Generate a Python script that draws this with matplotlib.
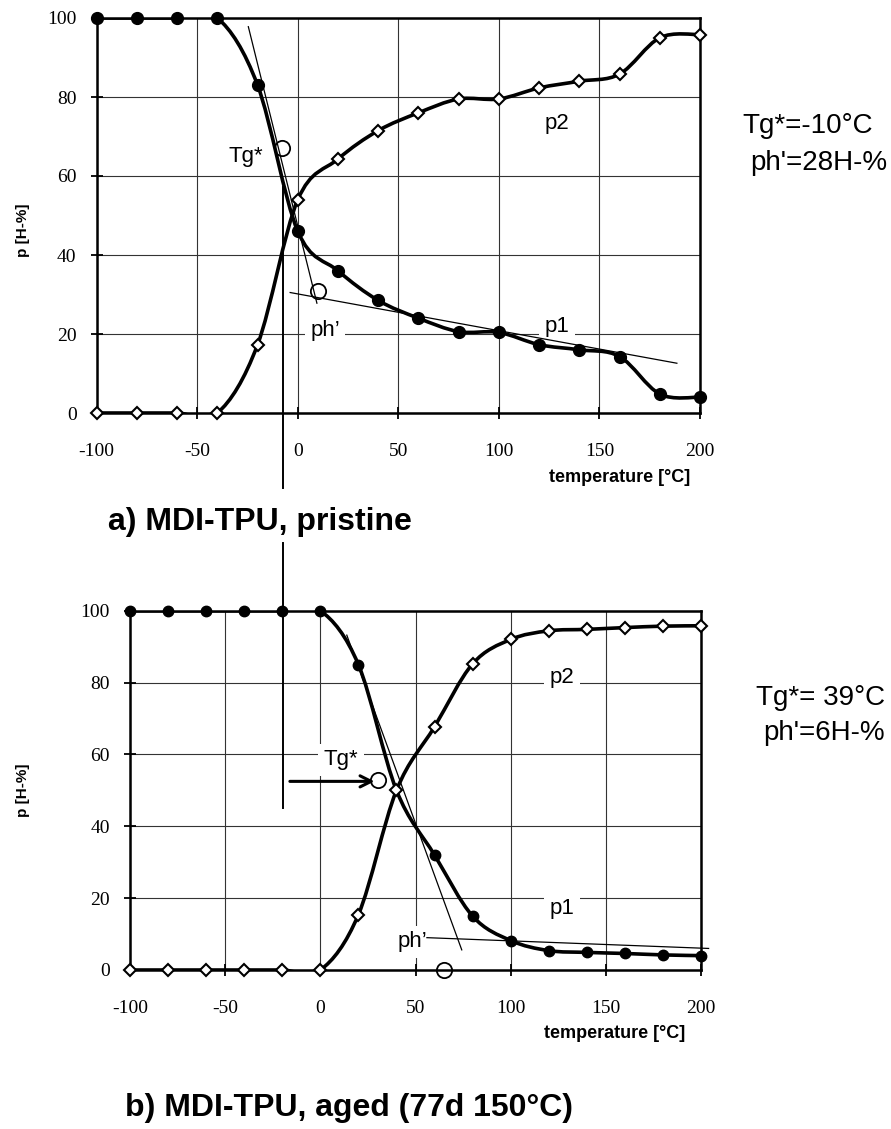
import numpy as np
import matplotlib
matplotlib.use("Agg")
import matplotlib.pyplot as plt
from matplotlib.path import Path
from matplotlib.patches import PathPatch
from matplotlib.lines import Line2D

# temperature grid of the measured points [°C]
temp = [-100, -80, -60, -40, -20, 0, 20, 40, 60, 80, 100, 120, 140, 160, 180, 200]

# a) pristine
pristine_p1 = [100, 100, 100, 100, 83, 46, 36, 28.5, 24, 20.6, 20.4, 17.3, 16, 14.3, 4.8, 4]
pristine_p2 = [0, 0, 0, 0, 17.3, 54, 64.3, 71.5, 76, 79.5, 79.5, 82.3, 84, 85.8, 95, 95.8]
pristine_marks = [(-8, 67), (10, 31)]                      # Tg*, ph'
pristine_tangents = [((-24.6, 9.5), (97.8, 27.8)), ((-3.8, 188.5), (30.5, 12.6))]
pristine_labels = [("Tg*", -26, 65), ("ph\u2019", 13.5, 21), ("p1", 129, 21.8), ("p2", 129, 73.3)]
pristine_note = ["Tg*=-10°C", "ph'=28H-%"]

# b) aged (77d 150°C)
aged_p1 = [100, 100, 100, 100, 100, 100, 85, 50, 32, 15, 8.2, 5.4, 4.9, 4.6, 4.2, 4]
aged_p2 = [0, 0, 0, 0, 0, 0, 15.4, 50, 67.7, 85.2, 92, 94.4, 94.8, 95.3, 95.7, 95.8]
aged_marks = [(30.5, 53), (65, 0)]                          # Tg*, ph'
aged_tangents = [((13.9, 74.3), (93.2, 5.6)), ((56, 204), (9.0, 6.0))]
aged_labels = [("Tg*", 11, 58.5), ("ph\u2019", 48.5, 7.8), ("p1", 127, 17.2), ("p2", 127, 81.3)]
aged_note = ["Tg*= 39°C", "ph'=6H-%"]
aged_arrow = ((-16, 52.5), (28.5, 52.5))

W, H = 891, 1129
plt.rcParams["font.family"] = ["Liberation Serif", "DejaVu Serif"]
plt.rcParams["axes.unicode_minus"] = False
SANS = ["Liberation Sans", "DejaVu Sans"]


def fx(px):
    return px / W


def fy(py):
    return 1 - py / H


def smooth_path(xs, ys):
    pts = np.column_stack([xs, ys]).astype(float)
    ext = np.vstack([pts[0], pts, pts[-1]])
    verts = [pts[0]]
    codes = [Path.MOVETO]
    for i in range(len(pts) - 1):
        p0, p1, p2, p3 = ext[i], ext[i + 1], ext[i + 2], ext[i + 3]
        verts += [p1 + (p2 - p0) / 6, p2 - (p3 - p1) / 6, p2]
        codes += [Path.CURVE4] * 3
    return Path(verts, codes)


def draw_panel(ax, p1, p2, marks, tangents, labels, ms_dot, ms_dia, hide_p1=None):
    ax.set_xlim(-100, 200)
    ax.set_ylim(0, 100)
    ax.set_xticks(range(-100, 201, 50))
    ax.set_yticks(range(0, 101, 20))
    ax.grid(True, color="#333333", linewidth=0.8)
    ax.set_axisbelow(True)
    for sp in ax.spines.values():
        sp.set_linewidth(1.8)
    ax.tick_params(direction="inout", length=9, width=1.3, labelsize=14)
    ax.tick_params(axis="x", pad=17)
    ax.tick_params(axis="y", pad=10)

    for ys in (p1, p2):
        ax.add_patch(PathPatch(smooth_path(temp, ys), fill=False, lw=2.6,
                               ec="black", capstyle="round", zorder=3))
    every = [i for i in range(len(temp)) if i != hide_p1]
    ax.plot(temp, p1, ls="none", marker="o", ms=ms_dot, color="black",
            markevery=every, clip_on=False, zorder=4)
    ax.plot(temp, p2, ls="none", marker="D", ms=ms_dia, mfc="white", mec="black",
            mew=1.5, clip_on=False, zorder=4)

    for xs, ys in tangents:
        ax.plot(xs, ys, color="black", lw=0.9, clip_on=False, zorder=3)
    mx, my = zip(*marks)
    ax.plot(mx, my, ls="none", marker="o", ms=11, mfc="none", mec="black",
            mew=1.3, clip_on=False, zorder=5)
    for txt, x, y in labels:
        ax.text(x, y, txt, family=SANS, fontsize=16, ha="center", va="center",
                zorder=2.5, bbox=dict(fc="white", ec="none", pad=4))


fig = plt.figure(figsize=(W / 100, H / 100), dpi=100)
ax_a = fig.add_axes([fx(96.7), fy(413), fx(700) - fx(96.7), (413 - 18) / H])
ax_b = fig.add_axes([fx(130), fy(970), fx(701) - fx(130), (970 - 610.7) / H])

draw_panel(ax_a, pristine_p1, pristine_p2, pristine_marks, pristine_tangents,
           pristine_labels, 8.5, 6.5)
draw_panel(ax_b, aged_p1, aged_p2, aged_marks, aged_tangents, aged_labels,
           7.5, 6.0, hide_p1=temp.index(40))

(x0, y0), (x1, y1) = aged_arrow
ax_b.annotate("", xy=(x1, y1), xytext=(x0, y0),
              arrowprops=dict(arrowstyle="->", lw=2.2, color="black", mutation_scale=20,
                              shrinkA=0, shrinkB=0))

# Tg* marker line running across both panels, broken by the title
for top, bottom in ((187, 488), (543, 808)):
    fig.add_artist(Line2D([fx(283), fx(283)], [fy(top), fy(bottom)], color="black",
                          lw=1.4, transform=fig.transFigure, zorder=2))

for py, t in ((230, "p [H-%]"), (790, "p [H-%]")):
    fig.text(fx(23), fy(py), t, family=SANS, weight="bold", fontsize=11,
             rotation=90, ha="center", va="center")
fig.text(fx(690), fy(478), "temperature [°C]", family=SANS, weight="bold",
         fontsize=13, ha="right", va="center")
fig.text(fx(685), fy(1033), "temperature [°C]", family=SANS, weight="bold",
         fontsize=13, ha="right", va="center")

fig.text(fx(108), fy(522), "a) MDI-TPU, pristine", family=SANS, weight="bold",
         fontsize=23, ha="left", va="center")
fig.text(fx(125), fy(1108), "b) MDI-TPU, aged (77d 150°C)", family=SANS, weight="bold",
         fontsize=23, ha="left", va="center")

fig.text(fx(873), fy(126), pristine_note[0], family=SANS, fontsize=20, ha="right", va="center")
fig.text(fx(887), fy(163), pristine_note[1], family=SANS, fontsize=20, ha="right", va="center")
fig.text(fx(885), fy(698), aged_note[0], family=SANS, fontsize=20, ha="right", va="center")
fig.text(fx(885), fy(733), aged_note[1], family=SANS, fontsize=20, ha="right", va="center")

fig.savefig("out.png", dpi=100)
